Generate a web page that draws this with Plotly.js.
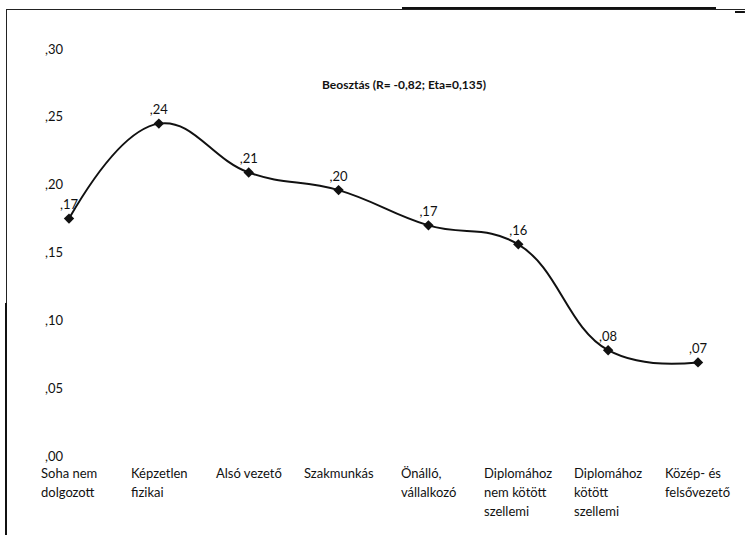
<!DOCTYPE html>
<html>
<head>
<meta charset="utf-8">
<script src="https://cdn.plot.ly/plotly-3.0.1.min.js"></script>
<style>
html,body{margin:0;padding:0;background:#fff;overflow:hidden;}
#frame{position:absolute;left:6px;top:9px;width:760px;height:560px;border-left:1px solid #222;border-top:1px solid #222;}
#chart{position:absolute;left:0;top:0;width:745px;height:535px;}
</style>
</head>
<body>
<div id="frame"></div>
<div id="chart"></div>
<script>
const categories = [
  "Soha nem<br>dolgozott",
  "Képzetlen<br>fizikai",
  "Alsó vezető",
  "Szakmunkás",
  "Önálló,<br>vállalkozó",
  "Diplomához<br>nem kötött<br>szellemi",
  "Diplomához<br>kötött<br>szellemi",
  "Közép- és<br>felsővezető"
];
const values = [0.175, 0.245, 0.209, 0.196, 0.170, 0.156, 0.078, 0.069];
const yTickVals = [0, 0.05, 0.10, 0.15, 0.20, 0.25, 0.30];
const yTickText = [",00", ",05", ",10", ",15", ",20", ",25", ",30"];
const chartTitle = "Beosztás (R= -0,82; Eta=0,135)";

const FONT = "Lato";
const FS = 13;
const xIdx = categories.map((c, i) => i);
const labelText = values.map(v => "," + v.toFixed(2).split(".")[1]);

// measure widths for left-aligned, centered label blocks
const cv = document.createElement("canvas").getContext("2d");
cv.font = FS + "px " + FONT;
const annotations = [];
categories.forEach((cat, i) => {
  const lines = cat.split("<br>");
  const maxW = Math.max(...lines.map(l => cv.measureText(l).width));
  lines.forEach((ln, j) => {
    annotations.push({
      x: xIdx[i], xref: "x", y: 0, yref: "paper",
      text: ln, showarrow: false,
      xanchor: "left", yanchor: "middle",
      xshift: -maxW / 2 - 2, yshift: -17 - 19 * j,
      font: {family: FONT, size: FS, color: "#111"}
    });
  });
});

const trace = {
  x: xIdx, y: values,
  type: "scatter", mode: "lines+markers+text",
  line: {color: "#111", width: 2, shape: "spline", smoothing: 1.2},
  marker: {symbol: "diamond", size: 8, color: "#111"},
  text: labelText, textposition: "top center",
  textfont: {family: FONT, size: FS, color: "#111"},
  hoverinfo: "skip", cliponaxis: false
};

const layout = {
  width: 745, height: 535,
  margin: {l: 69, r: 47, t: 49, b: 79},
  paper_bgcolor: "rgba(0,0,0,0)", plot_bgcolor: "rgba(0,0,0,0)",
  showlegend: false,
  font: {family: FONT, size: FS, color: "#111"},
  title: {
    text: "<b>" + chartTitle + "</b>",
    font: {family: FONT, size: 12, color: "#111"},
    xref: "container", x: 0.5423, xanchor: "center",
    yref: "container", y: 0.841, yanchor: "middle"
  },
  xaxis: {range: [0, 7], showticklabels: false, showgrid: false, zeroline: false, showline: false, ticks: ""},
  yaxis: {
    range: [0, 0.30], tickvals: yTickVals, ticktext: yTickText,
    showgrid: false, zeroline: false, showline: false, ticks: "",
    ticklabelstandoff: 5,
    tickfont: {family: FONT, size: FS, color: "#111"}
  },
  annotations: annotations,
  shapes: [
    {type: "line", xref: "paper", yref: "paper", x0: 0.5294, x1: 1.0286, y0: 1.1007, y1: 1.1007, line: {color: "#111111", width: 2}},
    {type: "line", xref: "paper", yref: "paper", x0: 1.0588, x1: 1.0746, y0: 1.0909, y1: 1.0909, line: {color: "#111111", width: 2}},
    {type: "line", xref: "paper", yref: "paper", x0: -0.1002, x1: -0.1002, y0: 0.376, y1: -0.2, line: {color: "#111111", width: 2}}
  ]
};

Plotly.newPlot("chart", [trace], layout, {staticPlot: true, displayModeBar: false});
</script>
</body>
</html>
